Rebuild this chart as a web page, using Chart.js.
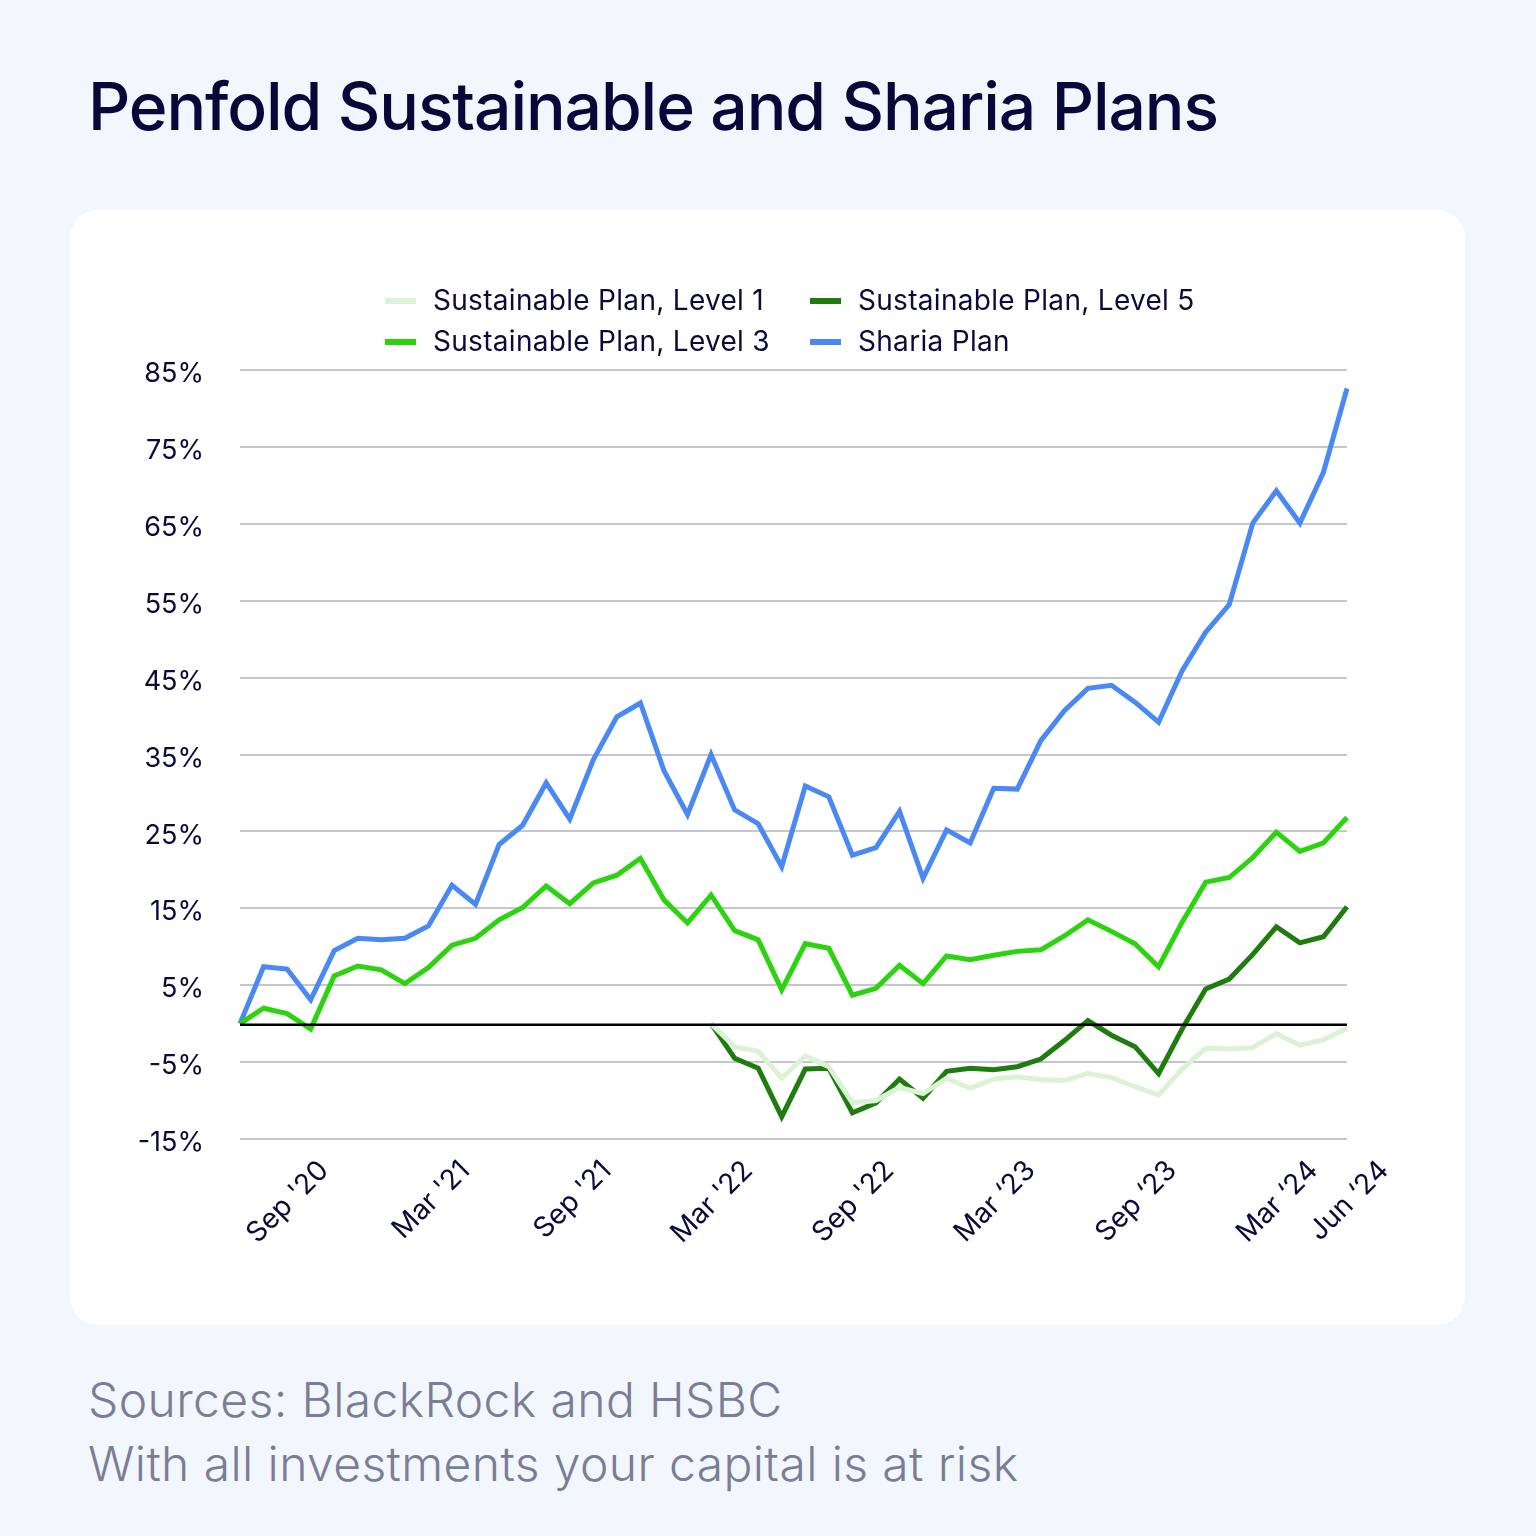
<!DOCTYPE html>
<html>
<head>
<meta charset="utf-8">
<script src="https://cdn.jsdelivr.net/npm/chart.js@4/dist/chart.umd.min.js"></script>
<style>
  html, body { margin: 0; padding: 0; }
  body { width: 1536px; height: 1536px; background: #f2f6fd; position: relative; overflow: hidden; font-family: Inter, "Noto Sans", sans-serif; }
  #title { position: absolute; left: 88px; top: 73px; font-size: 66px; line-height: 66px; font-weight: 500; letter-spacing: -1.1px; color: #07073a; white-space: nowrap; }
  #card { position: absolute; left: 70px; top: 210px; width: 1395px; height: 1115px; background: #fff; border-radius: 28px; }
  #chart { position: absolute; left: 70px; top: 210px; }
  #legend { position: absolute; left: 385px; top: 280px; display: grid; grid-template-columns: 425px auto; }
  .item { display: flex; align-items: center; height: 41px; font-size: 28px; line-height: 41px; letter-spacing: 0.3px; color: #0b0b3b; white-space: nowrap; }
  .swatch { width: 31px; height: 6px; margin-right: 17px; }
  #footer { position: absolute; left: 88px; top: 1368px; font-size: 48px; line-height: 64px; font-weight: 300; letter-spacing: 0.4px; color: #7b7d96; white-space: nowrap; }
</style>
</head>
<body>
<div id="title">Penfold Sustainable and Sharia Plans</div>
<div id="card"></div>
<canvas id="chart" width="1395" height="1115"></canvas>
<div id="legend"></div>
<div id="footer">Sources: BlackRock and HSBC<br>With all investments your capital is at risk</div>
<script>
// monthly, Jul '20 - Jun '24
var months = [
  "Jul '20", "Aug '20", "Sep '20", "Oct '20", "Nov '20", "Dec '20",
  "Jan '21", "Feb '21", "Mar '21", "Apr '21", "May '21", "Jun '21",
  "Jul '21", "Aug '21", "Sep '21", "Oct '21", "Nov '21", "Dec '21",
  "Jan '22", "Feb '22", "Mar '22", "Apr '22", "May '22", "Jun '22",
  "Jul '22", "Aug '22", "Sep '22", "Oct '22", "Nov '22", "Dec '22",
  "Jan ‘23", "Feb ‘23", "Mar ‘23", "Apr ‘23", "May ‘23", "Jun ‘23",
  "Jul ‘23", "Aug ‘23", "Sep ‘23", "Oct ‘23", "Nov ‘23", "Dec ‘23",
  "Jan ‘24", "Feb ‘24", "Mar ‘24", "Apr ‘24", "May ‘24", "Jun ‘24"
];
var shownTicks = ["Sep '20", "Mar '21", "Sep '21", "Mar '22", "Sep '22", "Mar ‘23", "Sep ‘23", "Mar ‘24", "Jun ‘24"];
var yTicks = [-15, -5, 5, 15, 25, 35, 45, 55, 65, 75, 85];

var level1 = [
  null, null, null, null, null, null, null, null, null, null,
  null, null, null, null, null, null, null, null, null, null,
  0, -3.0, -3.6, -7.1, -4.2, -5.6, -10.3, -10.0, -8.3, -9.1,
  -7.1, -8.4, -7.2, -6.9, -7.3, -7.4, -6.5, -7.0, -8.2, -9.3,
  -5.9, -3.2, -3.3, -3.1, -1.3, -2.8, -2.1, -0.6
];
var level5 = [
  null, null, null, null, null, null, null, null, null, null,
  null, null, null, null, null, null, null, null, null, null,
  0, -4.5, -5.8, -12.1, -5.9, -5.8, -11.6, -10.3, -7.2, -9.7,
  -6.2, -5.8, -6.0, -5.6, -4.6, -2.2, 0.4, -1.5, -3.0, -6.5,
  -0.7, 4.5, 5.8, 9.0, 12.6, 10.5, 11.3, 15.2
];
var level3 = [
  0, 2.0, 1.3, -0.7, 6.2, 7.5, 7.0, 5.2, 7.3, 10.2,
  11.1, 13.5, 15.1, 17.9, 15.6, 18.3, 19.3, 21.5, 16.1, 13.1,
  16.7, 12.1, 10.9, 4.4, 10.4, 9.8, 3.7, 4.6, 7.6, 5.2,
  8.8, 8.3, 8.9, 9.4, 9.6, 11.4, 13.5, 12.0, 10.4, 7.4,
  13.2, 18.4, 19.0, 21.6, 24.9, 22.4, 23.5, 26.8
];
var sharia = [
  0, 7.4, 7.1, 3.1, 9.5, 11.1, 10.9, 11.1, 12.7, 18.0,
  15.5, 23.3, 25.8, 31.3, 26.6, 34.3, 39.9, 41.7, 32.9, 27.2,
  35.0, 27.8, 26.0, 20.4, 30.9, 29.5, 21.9, 22.9, 27.6, 18.9,
  25.2, 23.5, 30.6, 30.5, 36.8, 40.7, 43.6, 44.0, 41.8, 39.2,
  45.9, 50.9, 54.5, 65.1, 69.3, 65.1, 71.7, 82.6
];

var navy = "#0b0b3b";
Chart.defaults.font.family = "Inter, 'Noto Sans', sans-serif";
Chart.defaults.color = navy;

function line(label, data, color) {
  return {
    label: label,
    data: data,
    borderColor: color,
    backgroundColor: color,
    borderWidth: 5,
    pointRadius: 0,
    pointHoverRadius: 0,
    tension: 0,
    fill: false
  };
}

// black line at 0%
var zeroLine = {
  id: "zeroLine",
  afterDatasetsDraw: function(chart) {
    var ctx = chart.ctx;
    var area = chart.chartArea;
    var y = chart.scales.y.getPixelForValue(0) + 1;
    ctx.save();
    ctx.strokeStyle = "#000";
    ctx.lineWidth = 2.5;
    ctx.beginPath();
    ctx.moveTo(area.left, y);
    ctx.lineTo(area.right, y);
    ctx.stroke();
    ctx.restore();
  }
};

var chart = new Chart(document.getElementById("chart").getContext("2d"), {
  type: "line",
  data: {
    labels: months,
    datasets: [
      line("Sustainable Plan, Level 1", level1, "#dcf2d5"),
      line("Sustainable Plan, Level 5", level5, "#1f7d10"),
      line("Sustainable Plan, Level 3", level3, "#2cd30f"),
      line("Sharia Plan", sharia, "#4a89f4")
    ]
  },
  options: {
    responsive: false,
    animation: false,
    layout: { padding: { left: 0, right: 118, top: 160, bottom: 0 } },
    plugins: {
      legend: { display: false },
      tooltip: { enabled: false }
    },
    scales: {
      x: {
        grid: { display: false },
        border: { display: false },
        ticks: {
          autoSkip: false,
          minRotation: 45,
          maxRotation: 45,
          labelOffset: 37,
          padding: 7,
          font: { size: 28 },
          color: navy,
          callback: function(value) {
            var lab = this.getLabelForValue(value);
            return shownTicks.indexOf(lab) >= 0 ? lab : "";
          }
        },
        afterFit: function(scale) { scale.height = 186; }
      },
      y: {
        min: -15,
        max: 85,
        grid: { color: "#c6c6ce", lineWidth: 2, drawTicks: false },
        border: { display: false },
        ticks: {
          padding: 36,
          labelOffset: 4,
          font: { size: 27 },
          color: navy,
          callback: function(v) { return v + "%"; }
        },
        afterBuildTicks: function(scale) {
          scale.ticks = yTicks.map(function(v) { return { value: v }; });
        },
        afterFit: function(scale) { scale.width = 170; }
      }
    }
  },
  plugins: [zeroLine]
});

// legend as html, two columns
var legend = document.getElementById("legend");
chart.data.datasets.forEach(function(ds) {
  var item = document.createElement("div");
  item.className = "item";
  var sw = document.createElement("span");
  sw.className = "swatch";
  sw.style.background = ds.borderColor;
  item.appendChild(sw);
  item.appendChild(document.createTextNode(ds.label));
  legend.appendChild(item);
});
</script>
</body>
</html>
